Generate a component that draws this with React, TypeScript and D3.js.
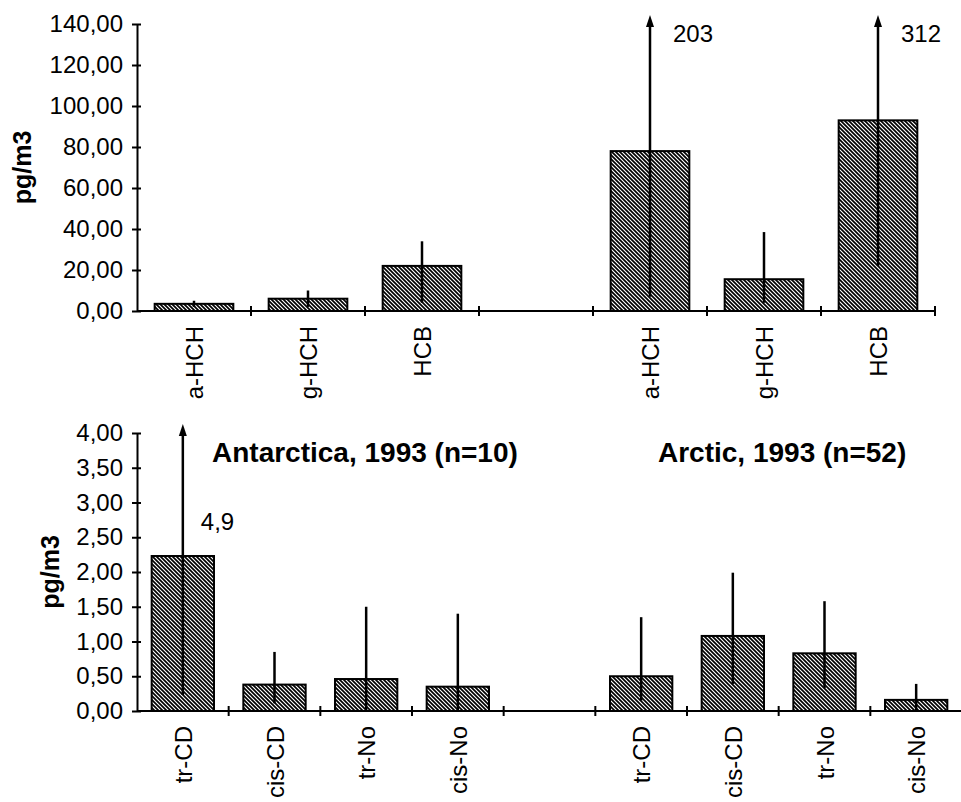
import { useEffect, useRef } from "react";
import * as d3 from "d3";

// upper panel: a-HCH, g-HCH, HCB (pg/m3)
const topCats = ["a-HCH", "g-HCH", "HCB"];
const antTopMean = [3.5, 6, 22];
const antTopLow = [2, 2, 4];
const antTopHigh = [5, 10, 34];
const arcTopMean = [78, 15.5, 93];
const arcTopLow = [7, 4, 22];
const arcTopHigh = [203, 38.5, 312];
const topTicks = [0, 20, 40, 60, 80, 100, 120, 140];

// lower panel: chlordanes / nonachlors (pg/m3)
const botCats = ["tr-CD", "cis-CD", "tr-No", "cis-No"];
const antBotMean = [2.23, 0.38, 0.46, 0.35];
const antBotLow = [0.23, 0.11, 0, 0];
const antBotHigh = [4.9, 0.85, 1.5, 1.4];
const arcBotMean = [0.5, 1.08, 0.83, 0.16];
const arcBotLow = [0.15, 0.39, 0.33, 0];
const arcBotHigh = [1.35, 1.99, 1.58, 0.39];
const botTicks = [0, 0.5, 1, 1.5, 2, 2.5, 3, 3.5, 4];

const FONT = "'Liberation Sans', Arial, sans-serif";
const FS = 24;

const fmt = d3
  .formatLocale({ decimal: ",", thousands: ".", grouping: [3], currency: ["", ""] })
  .format(".2f");

type Row = { cat: string; mean: number; low: number; high: number } | null;

function buildRows(cats, antMean, antLow, antHigh, arcMean, arcLow, arcHigh): Row[] {
  const ant = cats.map((c, i) => ({ cat: c, mean: antMean[i], low: antLow[i], high: antHigh[i] }));
  const arc = cats.map((c, i) => ({ cat: c, mean: arcMean[i], low: arcLow[i], high: arcHigh[i] }));
  return [...ant, null, ...arc];
}

function drawPanel(svg, opts) {
  const { rows, x0, x1, yTop, yBottom, max, ticks, padding, ylabelX } = opts;
  const g = svg.append("g");

  const x = d3
    .scaleBand<number>()
    .domain(d3.range(rows.length))
    .range([x0, x1])
    .paddingInner(padding)
    .paddingOuter(padding / 2);

  const y = d3.scaleLinear().domain([0, max]).range([yBottom, yTop]);

  // bars
  rows.forEach((d, i) => {
    if (!d) return;
    g.append("rect")
      .attr("x", x(i))
      .attr("y", y(d.mean))
      .attr("width", x.bandwidth())
      .attr("height", y(0) - y(d.mean))
      .attr("fill", "url(#hatch)")
      .attr("stroke", "#000")
      .attr("stroke-width", 2);
  });

  // error bars (no caps), arrow when off scale
  rows.forEach((d, i) => {
    if (!d) return;
    const cx = x(i)! + x.bandwidth() / 2;
    const off = d.high > max;
    const tip = off ? yTop - 9 : y(d.high);
    g.append("line")
      .attr("x1", cx)
      .attr("x2", cx)
      .attr("y1", y(d.low))
      .attr("y2", off ? tip + 6 : tip)
      .attr("stroke", "#000")
      .attr("stroke-width", 2.5);
    if (off) {
      g.append("path")
        .attr("d", `M${cx},${tip} L${cx - 4},${tip + 12} L${cx + 4},${tip + 12} Z`)
        .attr("fill", "#000");
      const label = String(d.high).replace(".", ",");
      g.append("text")
        .attr("x", cx + opts.labelDx)
        .attr("y", opts.labelY)
        .attr("font-family", FONT)
        .attr("font-size", FS)
        .text(label);
    }
  });

  // y axis
  const yAxis = g
    .append("g")
    .attr("transform", `translate(${x0},0)`)
    .call(d3.axisLeft(y).tickValues(ticks).tickFormat(fmt).tickSize(5).tickSizeOuter(0).tickPadding(9));
  yAxis.select(".domain").attr("stroke-width", 2);
  yAxis.selectAll(".tick line").attr("x1", 4).attr("stroke-width", 2);
  yAxis
    .selectAll(".tick text")
    .attr("font-family", FONT)
    .attr("font-size", FS)
    .attr("fill", "#000");

  // x axis with ticks at slot boundaries
  g.append("line")
    .attr("x1", x0)
    .attr("x2", x1)
    .attr("y1", y(0))
    .attr("y2", y(0))
    .attr("stroke", "#000")
    .attr("stroke-width", 2);
  d3.range(1, rows.length + 1).forEach((i) => {
    const bx = x0 + i * x.step();
    g.append("line")
      .attr("x1", bx)
      .attr("x2", bx)
      .attr("y1", y(0) - 5)
      .attr("y2", y(0) + 5)
      .attr("stroke", "#000")
      .attr("stroke-width", 2);
  });

  // category labels
  rows.forEach((d, i) => {
    if (!d) return;
    const cx = x(i)! + x.bandwidth() / 2 + 9;
    g.append("text")
      .attr("transform", `translate(${cx},${y(0) + 15}) rotate(-90)`)
      .attr("text-anchor", "end")
      .attr("font-family", FONT)
      .attr("font-size", FS)
      .text(d.cat);
  });

  // y label
  g.append("text")
    .attr("transform", `translate(${ylabelX},${(yTop + yBottom) / 2}) rotate(-90)`)
    .attr("text-anchor", "middle")
    .attr("font-family", FONT)
    .attr("font-weight", "bold")
    .attr("font-size", 25)
    .text("pg/m3");
}

export default function App() {
  const ref = useRef<SVGSVGElement>(null);

  useEffect(() => {
    const svg = d3.select(ref.current);
    svg.selectAll("*").remove();

    const pat = svg
      .append("defs")
      .append("pattern")
      .attr("id", "hatch")
      .attr("patternUnits", "userSpaceOnUse")
      .attr("width", 4)
      .attr("height", 4);
    pat.append("rect").attr("width", 4).attr("height", 4).attr("fill", "#fff");
    pat
      .append("path")
      .attr("d", "M0,0 L4,4 M-1,3 L1,5 M3,-1 L5,1")
      .attr("stroke", "#000")
      .attr("stroke-width", 1.7);

    drawPanel(svg, {
      rows: buildRows(topCats, antTopMean, antTopLow, antTopHigh, arcTopMean, arcTopLow, arcTopHigh),
      x0: 137,
      x1: 935,
      yTop: 24,
      yBottom: 311,
      max: 140,
      ticks: topTicks,
      padding: 0.31,
      ylabelX: 31,
      labelDx: 23,
      labelY: 42,
    });

    drawPanel(svg, {
      rows: buildRows(botCats, antBotMean, antBotLow, antBotHigh, arcBotMean, arcBotLow, arcBotHigh),
      x0: 137,
      x1: 962,
      yTop: 433,
      yBottom: 711,
      max: 4,
      ticks: botTicks,
      padding: 0.32,
      ylabelX: 59,
      labelDx: 18,
      labelY: 530,
    });

    svg
      .append("text")
      .attr("x", 212)
      .attr("y", 462)
      .attr("font-family", FONT)
      .attr("font-weight", "bold")
      .attr("font-size", 28)
      .text("Antarctica, 1993 (n=10)");

    svg
      .append("text")
      .attr("x", 658)
      .attr("y", 462)
      .attr("font-family", FONT)
      .attr("font-weight", "bold")
      .attr("font-size", 28)
      .text("Arctic, 1993 (n=52)");
  }, []);

  return (
    <svg
      ref={ref}
      width={961}
      height={802}
      style={{ position: "absolute", left: 0, top: 0, background: "#fff" }}
    />
  );
}
